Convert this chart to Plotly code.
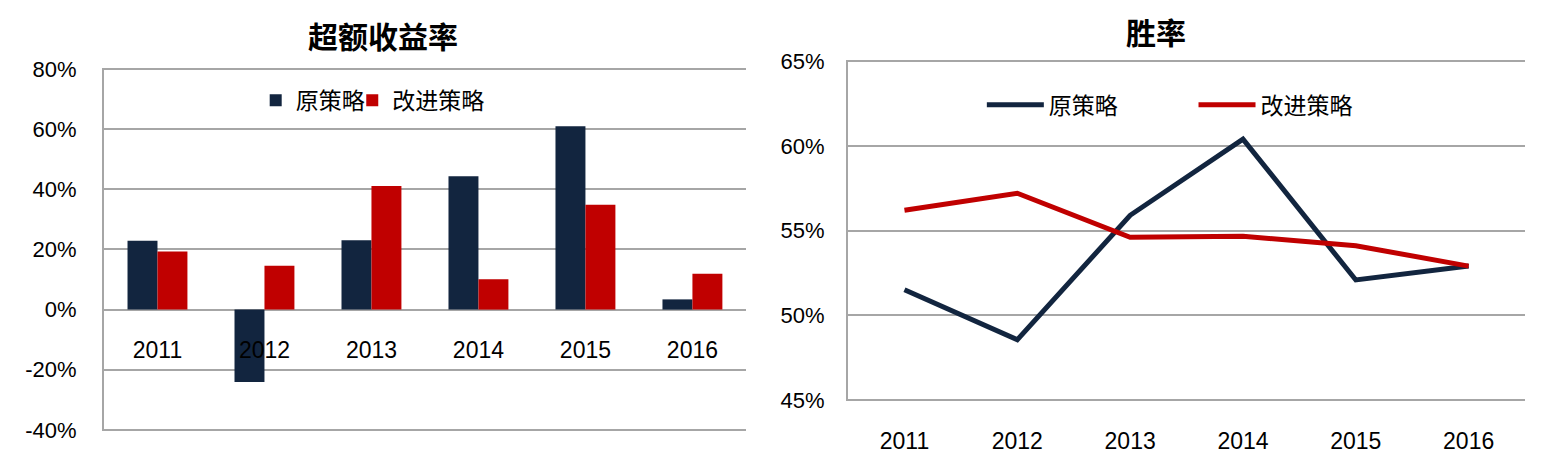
import plotly.graph_objects as go

years = ["2011", "2012", "2013", "2014", "2015", "2016"]
excess_orig = [22.9, -24.1, 23.1, 44.4, 61.0, 3.4]
excess_impr = [19.3, 14.6, 41.1, 10.1, 34.9, 11.9]
win_orig = [51.5, 48.55, 55.9, 60.4, 52.08, 52.9]
win_impr = [56.2, 57.2, 54.6, 54.66, 54.1, 52.9]
left_ticks = [-40, -20, 0, 20, 40, 60, 80]
right_ticks = [45, 50, 55, 60, 65]

NAVY = "#12253F"
RED = "#C00000"
GRID = "#A6A6A6"
NUM_FONT = "Liberation Sans, Arial, sans-serif"
CJK_FONT = "Noto Sans CJK SC, sans-serif"

L_RANGE = [-40.4, 80.4]
L_DOM = [0.067, 0.853]
zero_pos = L_DOM[0] + (0 - L_RANGE[0]) / (L_RANGE[1] - L_RANGE[0]) * (L_DOM[1] - L_DOM[0])

fig = go.Figure()

fig.add_trace(go.Bar(x=years, y=excess_orig, name="原策略", marker_color=NAVY,
                     marker_line_width=0, xaxis="x", yaxis="y", legend="legend", showlegend=True))
fig.add_trace(go.Bar(x=years, y=excess_impr, name="改进策略", marker_color=RED,
                     marker_line_width=0, xaxis="x", yaxis="y", legend="legend3", showlegend=True))

fig.add_trace(go.Scatter(x=years, y=win_orig, name="原策略", mode="lines", showlegend=True,
                         line=dict(color=NAVY, width=5), xaxis="x2", yaxis="y2", legend="legend2"))
fig.add_trace(go.Scatter(x=years, y=win_impr, name="改进策略", mode="lines", showlegend=True,
                         line=dict(color=RED, width=5), xaxis="x2", yaxis="y2", legend="legend4"))

fig.add_annotation(x=0.248, y=0.924, xref="paper", yref="paper", text="<b>超额收益率</b>",
                   xanchor="center", yanchor="middle",
                   showarrow=False, font=dict(family=CJK_FONT, size=30, color="#000"))
fig.add_annotation(x=0.7485, y=0.933, xref="paper", yref="paper", text="<b>胜率</b>",
                   xanchor="center", yanchor="middle",
                   showarrow=False, font=dict(family=CJK_FONT, size=30, color="#000"))

leg_common = dict(orientation="h", xanchor="left", yanchor="middle", bgcolor="rgba(0,0,0,0)",
                  font=dict(family=CJK_FONT, size=23, color="#000"))

fig.update_layout(
    width=1545, height=462,
    showlegend=True,
    margin=dict(l=0, r=0, t=0, b=0, autoexpand=False),
    paper_bgcolor="white", plot_bgcolor="white",
    barmode="group", bargap=0.44, bargroupgap=0,
    xaxis=dict(domain=[0.0673, 0.4828], anchor="free", position=zero_pos, type="category",
               range=[-0.5, 5.5], automargin=False,
               showgrid=False, showline=False, zeroline=False, ticks="", ticklabelstandoff=24,
               tickfont=dict(family=NUM_FONT, size=23, color="#000")),
    yaxis=dict(domain=L_DOM, anchor="x", range=L_RANGE, tickvals=left_ticks, automargin=False,
               ticktext=[f"{v}%" for v in left_ticks], showgrid=True, gridcolor=GRID, gridwidth=2,
               zeroline=True, zerolinecolor=GRID, zerolinewidth=2,
               showline=True, linecolor=GRID, linewidth=2, ticks="", ticklabelstandoff=21,
               tickfont=dict(family=NUM_FONT, size=22, color="#000")),
    xaxis2=dict(domain=[0.5489, 0.9871], anchor="y2", type="category", range=[-0.5, 5.5],
                automargin=False, showgrid=False,
                showline=False, zeroline=False, ticks="", ticklabelstandoff=24,
                tickfont=dict(family=NUM_FONT, size=23, color="#000")),
    yaxis2=dict(domain=[0.132, 0.870], anchor="x2", range=[44.93, 65.07], tickvals=right_ticks,
                automargin=False,
                ticktext=[f"{v}%" for v in right_ticks], showgrid=True, gridcolor=GRID, gridwidth=2,
                zeroline=False, showline=True, linecolor=GRID, linewidth=2, ticks="",
                ticklabelstandoff=17, tickfont=dict(family=NUM_FONT, size=22, color="#000")),
    legend=dict(x=0.1655, y=0.783, **leg_common),
    legend3=dict(x=0.228, y=0.783, **leg_common),
    legend2=dict(x=0.6355, y=0.773, itemwidth=57, **leg_common),
    legend4=dict(x=0.7725, y=0.773, itemwidth=57, **leg_common),
)

fig.write_html("out.html", post_script="document.body.style.margin='0';",
               config={"displayModeBar": False})
